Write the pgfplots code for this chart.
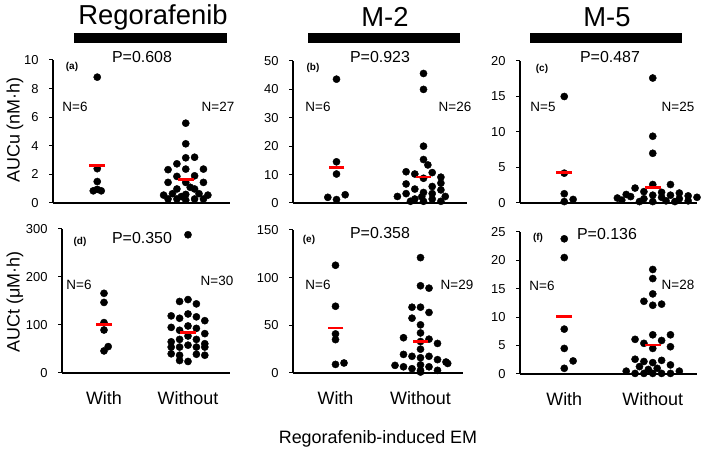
\documentclass[border=0pt]{standalone}
\usepackage{pgfplots}
\pgfplotsset{compat=1.18}
\usepackage{fontspec}
\setmainfont{Liberation Sans}

\pgfplotsset{
  panel/.style={
    scale only axis, anchor=south west,
    xmin=0.5, xmax=2.5, ymin=0,
    axis x line=bottom, axis y line=left,
    axis line style={-, line width=1.5pt},
    xtick=\empty,
    tick align=outside, major tick length=4pt,
    ytick style={line width=1pt, black},
    yticklabel style={font=\fontsize{13}{15}\selectfont, xshift=-7pt},
    /pgf/number format/assume math mode=true,
    clip=false,
  },
  bottomrow/.style={
    xtick={1,2}, xticklabels={With,Without},
    xticklabel style={font=\fontsize{18}{21}\selectfont, yshift=-11pt},
    x tick style={draw=none},
  },
  dots/.style={only marks, mark=*, mark size=3.6pt, black},
  mean/.style={only marks, mark=-, mark size=8pt, red, mark options={line width=2.7pt}},
}
\newcommand\ttl{\fontsize{27.5}{31}\selectfont}
\newcommand\pv{\fontsize{16}{19}\selectfont}
\newcommand\nn{\fontsize{13.5}{16}\selectfont}
\newcommand\lt{\fontsize{10}{12}\selectfont\bfseries}
\newcommand\lab{\fontsize{18}{21}\selectfont}

\begin{document}
\begin{tikzpicture}[x=1bp,y=1bp]
\useasboundingbox (0,0) rectangle (709,452);

% (a) Regorafenib AUCu
\begin{axis}[panel, at={(53bp,249bp)}, width=177bp, height=143bp,
  ymax=10, ytick={0,2,...,10}]
\addplot[dots] coordinates {(1,8.8) (1,2.4) (1,1.5) (0.955,0.85) (1.045,0.85) (1,0.95)};
\addplot[dots] coordinates {
 (2,5.58) (2,4.14) (2,3.16) (2.1,3.2) (1.9,2.74) (1.8,2.33) (2,2.37) (2.2,2.37)
 (1.9,1.86) (2.1,1.9) (1.8,1.44) (2,1.44) (2.2,1.44) (1.9,0.98) (2.1,0.98)
 (1.75,0.55) (1.85,0.65) (2,0.6) (2.15,0.65) (2.25,0.55) (1.8,0.28) (1.9,0.28)
 (2,0.2) (2.1,0.28) (2.2,0.28) (2.05,1.1) (1.95,0.45)};
\addplot[mean] coordinates {(1,2.6) (2,1.63)};
\end{axis}

% (b) M-2 AUCu
\begin{axis}[panel, at={(293bp,249bp)}, width=174bp, height=142bp,
  ymax=50, ytick={0,10,...,50}]
\addplot[dots] coordinates {(1,43.6) (1,14.5) (1,10.2) (0.9,2.0) (1.1,2.9) (1,1.2)};
\addplot[dots] coordinates {
 (2,45.6) (2,40) (2,20) (2,15.3) (2.05,13.4) (1.8,11) (1.9,10.2) (2.1,10.7)
 (2,8.7) (2.2,9.1) (1.8,6.7) (1.9,4.9) (2.1,5.8) (1.7,2.3) (1.8,3.3) (2,3.7)
 (2.1,3.3) (2.25,2.3) (1.9,1.4) (2,0.6) (2.1,1.4) (2.2,0.6) (1.98,2.2)
 (1.85,0.6) (2.2,4.6) (2.2,7)};
\addplot[mean] coordinates {(1,12.6) (2,9.1)};
\end{axis}

% (c) M-5 AUCu
\begin{axis}[panel, at={(520bp,249bp)}, width=177bp, height=142bp,
  ymax=20, ytick={0,5,...,20}]
\addplot[dots] coordinates {(1,15) (1,4.2) (1,1.3) (1.1,0.5) (1,0.2)};
\addplot[dots] coordinates {
 (2,17.6) (2,9.4) (2,7.0) (2,2.6) (2.2,2.6) (1.8,2.1) (1.9,1.6) (2.1,1.5)
 (2.3,1.4) (1.7,1.2) (2,1.1) (2.2,1.1) (1.75,0.9) (2.4,1.0) (1.6,0.7)
 (2.1,0.8) (2.5,0.8) (1.9,0.6) (2.3,0.6) (1.65,0.4) (1.85,0.2) (2,0.2)
 (2.15,0.3) (2.25,0.2) (2.4,0.3)};
\addplot[mean] coordinates {(1,4.3) (2,2.2)};
\end{axis}

% (d) Regorafenib AUCt
\begin{axis}[panel, bottomrow, at={(62bp,79bp)}, width=168bp, height=144bp,
  ymax=300, ytick={0,100,200,300}]
\addplot[dots] coordinates {(1,166) (1,147) (1,105) (1,89.5) (1.05,55) (1,46)};
\addplot[dots] coordinates {
 (2,288) (1.9,149) (2,153) (2.1,144)
 (1.8,119) (1.9,114) (2,123) (2.1,117) (2.2,109)
 (1.8,95) (1.9,89) (2,98) (2.1,93) (2.2,82)
 (1.8,65) (1.9,70) (2,77) (2.1,70) (2.2,61)
 (1.8,54) (1.9,54) (2,58) (2.1,54) (2.2,54)
 (1.8,40) (1.9,37) (2.1,39) (2.2,37) (1.9,26) (2,24)};
\addplot[mean] coordinates {(1,101.4) (2,84.7)};
\end{axis}

% (e) M-2 AUCt
\begin{axis}[panel, bottomrow, at={(293bp,79bp)}, width=170bp, height=143bp,
  ymax=150, ytick={0,50,100,150}]
\addplot[dots] coordinates {(1,113) (1,70) (1,41) (1,35) (1,9) (1.1,10.5)};
\addplot[dots] coordinates {
 (2,121) (2,91.5) (2.1,89) (1.9,69) (2,69) (2.1,63.5) (1.9,57.5) (2,50.5)
 (2,42) (1.8,37) (2.1,35.5) (2,33) (2.2,31) (2,25) (1.8,19.5) (1.9,17.5)
 (2,16) (2.1,17.5) (2.2,14) (2.3,11.5) (1.7,8) (1.8,6.5) (1.9,4.5) (2,2.8)
 (2.1,6.5) (2.2,2.8) (2.32,10) (2,8.5) (2,1)};
\addplot[mean] coordinates {(1,47.2) (2,33.2)};
\end{axis}

% (f) M-5 AUCt
\begin{axis}[panel, bottomrow, at={(520bp,78bp)}, width=177bp, height=142bp,
  ymax=25, ytick={0,5,...,25}]
\addplot[dots] coordinates {(1,23.8) (1,20.5) (1,7.9) (1,4.5) (1.1,2.3) (1,1.0)};
\addplot[dots] coordinates {
 (2,18.4) (2,16.8) (2,14.1) (1.9,12.8) (2,12.1) (2.1,12.3) (1.8,6.1) (2,6.9)
 (2.2,6.9) (1.9,5.4) (2,4.5) (2.1,5.9) (2.2,4.8) (1.8,2.6) (1.9,2.2) (2.1,2.4)
 (2.2,1.6) (2,2.0) (1.85,1.3) (2.05,1.0) (1.7,0.5) (1.8,0.1) (1.9,0.1) (2,0.1)
 (2.1,0.1) (2.2,0.1) (2.3,0.5) (1.95,0.8)};
\addplot[mean] coordinates {(1,10.1) (2,5.1)};
\end{axis}

% column titles and bars
\node[font=\ttl] at (153,435) {Regorafenib};
\node[font=\ttl] at (385,435) {M-2};
\node[font=\ttl] at (607,435) {M-5};
\fill (74,409) rectangle (227,419);
\fill (308,409) rectangle (460,419);
\fill (530,409) rectangle (682,419);

% P values
\node[font=\pv] at (142,395) {P=0.608};
\node[font=\pv] at (380,395) {P=0.923};
\node[font=\pv] at (610,395) {P=0.487};
\node[font=\pv] at (142,214) {P=0.350};
\node[font=\pv] at (380,219) {P=0.358};
\node[font=\pv] at (607,218) {P=0.136};

% panel letters
\node[font=\lt] at (72,385) {(a)};
\node[font=\lt] at (313,384) {(b)};
\node[font=\lt] at (542,383) {(c)};
\node[font=\lt] at (80,210) {(d)};
\node[font=\lt] at (309,212) {(e)};
\node[font=\lt] at (538,214) {(f)};

% group sizes
\node[font=\nn] at (75,345) {N=6};
\node[font=\nn] at (218,345) {N=27};
\node[font=\nn] at (318,345) {N=6};
\node[font=\nn] at (455,345) {N=26};
\node[font=\nn] at (543,345) {N=5};
\node[font=\nn] at (678,345) {N=25};
\node[font=\nn] at (79,167) {N=6};
\node[font=\nn] at (217,171) {N=30};
\node[font=\nn] at (318,167) {N=6};
\node[font=\nn] at (457,167) {N=29};
\node[font=\nn] at (542,166) {N=6};
\node[font=\nn] at (678,167) {N=28};

% axis titles
\node[font=\lab, rotate=90] at (15,322) {AUCu (nM·h)};
\node[font=\lab, rotate=90] at (15,150) {AUCt (μM·h)};
\node[font=\lab] at (378,13) {Regorafenib-induced EM};
\end{tikzpicture}
\end{document}
